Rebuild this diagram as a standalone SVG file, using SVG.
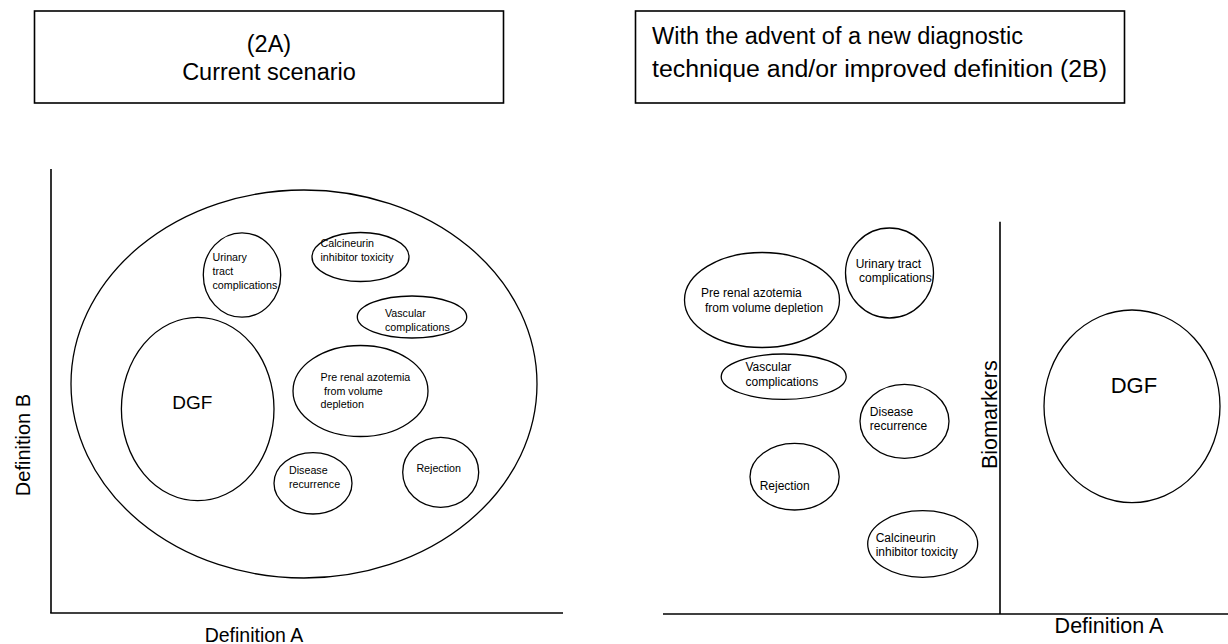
<svg xmlns="http://www.w3.org/2000/svg" width="1228" height="644" viewBox="0 0 1228 644">
<style>
.shape{fill:none;stroke:#000;stroke-width:1.3}
.box{fill:#fff;stroke:#000;stroke-width:1.6}
.axis{stroke:#000;stroke-width:1.6;fill:none}
text{font-family:"Liberation Sans",Arial,Helvetica,sans-serif;fill:#000}
.t{font-size:23.5px}
.sl{font-size:10.7px}
.sr{font-size:12px}
.mid{text-anchor:middle}
</style>
<rect width="1228" height="644" fill="#fff"/>

<g id="title-2A">
<rect class="box" x="34.5" y="11" width="469" height="92"/>
<text class="t mid" x="269" y="52">(2A)</text>
<text class="t mid" x="269" y="80">Current scenario</text>
</g>
<g id="title-2B">
<rect class="box" x="635.5" y="11" width="489" height="92"/>
<text class="t" x="652" y="44">With the advent of a new diagnostic</text>
<text class="t" x="652" y="76.5" textLength="455" lengthAdjust="spacingAndGlyphs">technique and/or improved definition (2B)</text>
</g>

<g id="axes">
<line class="axis" x1="51" y1="169" x2="51" y2="613"/>
<line class="axis" x1="50.2" y1="613" x2="563" y2="613"/>
<line class="axis" x1="1000" y1="221.7" x2="1000" y2="614"/>
<line class="axis" x1="663" y1="614" x2="1228" y2="614"/>
<text class="mid" style="font-size:19.5px" x="254" y="641.5">Definition A</text>
<text class="mid" style="font-size:20px" transform="translate(30,445) rotate(-90)">Definition B</text>
<text class="mid" style="font-size:21.5px" x="1109" y="633">Definition A</text>
<text class="mid" style="font-size:21.5px" transform="translate(997,414.7) rotate(-90)">Biomarkers</text>
</g>

<g id="A-all">
<ellipse class="shape" cx="304" cy="384" rx="233" ry="194"/>
</g>
<g id="A-urinary">
<ellipse class="shape" cx="242" cy="275" rx="38.7" ry="42.2"/>
<text class="sl" x="212.5" y="261">Urinary</text>
<text class="sl" x="212.5" y="275">tract</text>
<text class="sl" x="212.5" y="289">complications</text>
</g>
<g id="A-calcineurin">
<ellipse class="shape" cx="360.5" cy="257" rx="48.5" ry="24.5"/>
<text class="sl" x="320.5" y="247">Calcineurin</text>
<text class="sl" x="320.5" y="261">inhibitor toxicity</text>
</g>
<g id="A-vascular">
<ellipse class="shape" cx="412" cy="317" rx="54.7" ry="21"/>
<text class="sl" x="385" y="317">Vascular</text>
<text class="sl" x="385" y="331">complications</text>
</g>
<g id="A-prerenal">
<ellipse class="shape" cx="360.5" cy="391" rx="67.5" ry="45.5"/>
<text class="sl" x="320.5" y="381">Pre renal azotemia</text>
<text class="sl" x="324" y="394.5">from volume</text>
<text class="sl" x="320.5" y="408">depletion</text>
</g>
<g id="A-dgf">
<ellipse class="shape" cx="197.7" cy="409" rx="76.3" ry="91.7"/>
<text style="font-size:19px" x="172.3" y="409">DGF</text>
</g>
<g id="A-disease">
<ellipse class="shape" cx="313" cy="483.3" rx="39" ry="30.7"/>
<text class="sl" x="289" y="474">Disease</text>
<text class="sl" x="289" y="487.7">recurrence</text>
</g>
<g id="A-rejection">
<ellipse class="shape" cx="440.7" cy="472.3" rx="38" ry="35"/>
<text class="sl" x="416.4" y="471.7">Rejection</text>
</g>

<g id="B-prerenal">
<ellipse class="shape" cx="762" cy="300" rx="77.5" ry="47.5"/>
<text class="sr" x="701" y="297">Pre renal azotemia</text>
<text class="sr" x="705" y="311.7">from volume depletion</text>
</g>
<g id="B-urinary">
<ellipse class="shape" cx="889.5" cy="273" rx="44" ry="45"/>
<text class="sr" x="855.7" y="267.5">Urinary tract</text>
<text class="sr" x="859" y="282">complications</text>
</g>
<g id="B-vascular">
<ellipse class="shape" cx="783.7" cy="376.7" rx="62.5" ry="22.7"/>
<text class="sr" x="745.5" y="371">Vascular</text>
<text class="sr" x="745.5" y="386">complications</text>
</g>
<g id="B-disease">
<ellipse class="shape" cx="904.5" cy="421.3" rx="44.5" ry="37"/>
<text class="sr" x="869.8" y="415.7">Disease</text>
<text class="sr" x="869.8" y="430">recurrence</text>
</g>
<g id="B-rejection">
<ellipse class="shape" cx="794.6" cy="476.7" rx="44.6" ry="33.3"/>
<text class="sr" x="759.7" y="490">Rejection</text>
</g>
<g id="B-calcineurin">
<ellipse class="shape" cx="922.7" cy="544" rx="55" ry="33.3"/>
<text class="sr" x="875.7" y="541.7">Calcineurin</text>
<text class="sr" x="875.7" y="556">inhibitor toxicity</text>
</g>
<g id="B-dgf">
<ellipse class="shape" cx="1132" cy="406.3" rx="88" ry="96.3"/>
<text style="font-size:22px" x="1110.7" y="392.7">DGF</text>
</g>
</svg>
